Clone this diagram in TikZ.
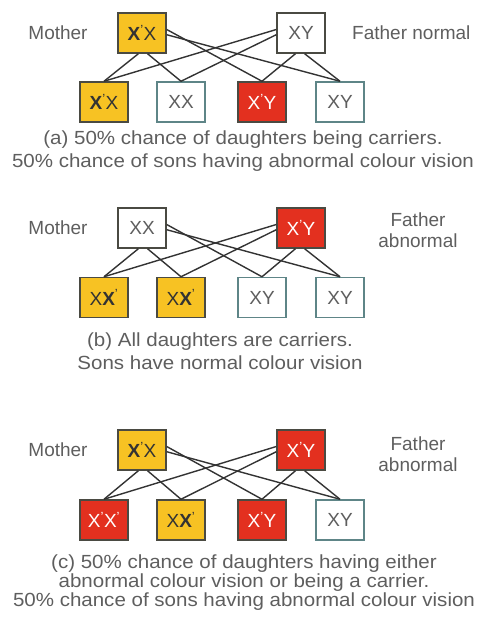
\documentclass[tikz,border=0pt]{standalone}
\usepackage{fontspec}
\setmainfont{Liberation Sans}
\usetikzlibrary{positioning}

\definecolor{carrier}{HTML}{F7C223}
\definecolor{affected}{HTML}{E3301F}
\definecolor{boxline}{HTML}{4A4A42}
\definecolor{kidline}{HTML}{5E8587}
\definecolor{txtgray}{HTML}{5E5E5E}

% X carrying the colour-blind gene
\newcommand{\Xc}{X\textsuperscript{'}}
\newcommand{\Xb}{\textbf{X}\textsuperscript{'}}

\begin{document}
\begin{tikzpicture}[x=1pt, y=-1pt,
  gene/.style={draw=boxline, line width=1.5pt, minimum width=48pt, minimum height=40pt,
    inner sep=0pt, font=\fontsize{19}{21}\selectfont},
  normbox/.style={gene, fill=white, text=txtgray},
  kidbox/.style={normbox, draw=kidline},
  carrbox/.style={gene, fill=carrier, text=black!80},
  affbox/.style={gene, fill=affected, text=white},
  txt/.style={text=txtgray, font=\fontsize{19}{23}\selectfont, inner sep=0pt},
  capt/.style={txt, align=center, xscale=1.08},
  cross/.style={line width=1.4pt, draw=black!80}]
  \useasboundingbox (0,0) rectangle (482,619);

  % (a) carrier mother, normal father
  \node[carrbox] (ma) at (142,33) {\Xb X};
  \node[normbox] (fa) at (301,33) {XY};
  \node[carrbox] (a1) at (104,102) {\Xb X};
  \node[kidbox]  (a2) at (181,102) {XX};
  \node[affbox]  (a3) at (262,102) {\Xc Y};
  \node[kidbox]  (a4) at (340,102) {XY};
  \node[txt] (mla) at (58,33) {Mother};
  \node[txt, anchor=west] (fla) at (352,33) {Father normal};
  \node[capt] (capa) at (243,151.5)
    {(a) 50\% chance of daughters being carriers.\\
     50\% chance of sons having abnormal colour vision};

  % (b) normal mother, abnormal father
  \node[normbox] (mb) at (142,228) {XX};
  \node[affbox]  (fb) at (301,228) {\Xc Y};
  \node[carrbox] (b1) at (104,297.5) {X\Xb};
  \node[carrbox] (b2) at (181,297.5) {X\Xb};
  \node[kidbox]  (b3) at (262,297.5) {XY};
  \node[kidbox]  (b4) at (340,297.5) {XY};
  \node[txt] (mlb) at (58,228) {Mother};
  \node[txt, align=center, font=\fontsize{19}{21}\selectfont] (flb) at (418,230) {Father\\abnormal};
  \node[capt] (capb) at (220,351.5)
    {(b) All daughters are carriers.\\
     Sons have normal colour vision};

  % (c) carrier mother, abnormal father
  \node[carrbox] (mc) at (142,450) {\Xb X};
  \node[affbox]  (fc) at (301,450) {\Xc Y};
  \node[affbox]  (c1) at (104,520) {\Xc\Xc};
  \node[carrbox] (c2) at (181,520) {X\Xb};
  \node[affbox]  (c3) at (262,520) {\Xc Y};
  \node[kidbox]  (c4) at (340,520) {XY};
  \node[txt] (mlc) at (58,450) {Mother};
  \node[txt, align=center, font=\fontsize{19}{21}\selectfont] (flc) at (418,454) {Father\\abnormal};
  \node[capt, font=\fontsize{19}{19}\selectfont] (capc) at (244,583)
    {(c) 50\% chance of daughters having either\\
     abnormal colour vision or being a carrier.\\
     50\% chance of sons having abnormal colour vision};

  % crossing lines, parents to children
  \foreach \p in {a,b,c} {
    \draw[cross] (m\p.-100) -- (\p1.north);
    \draw[cross] (m\p.-75) -- (\p2.north);
    \draw[cross] (m\p.8) -- (\p3.north);
    \draw[cross] (m\p.-4) -- (\p4.north);
    \draw[cross] (f\p.172) -- (\p1.north);
    \draw[cross] (f\p.184) -- (\p2.north);
    \draw[cross] (f\p.-105) -- (\p3.north);
    \draw[cross] (f\p.-80) -- (\p4.north);
  }
\end{tikzpicture}
\end{document}
